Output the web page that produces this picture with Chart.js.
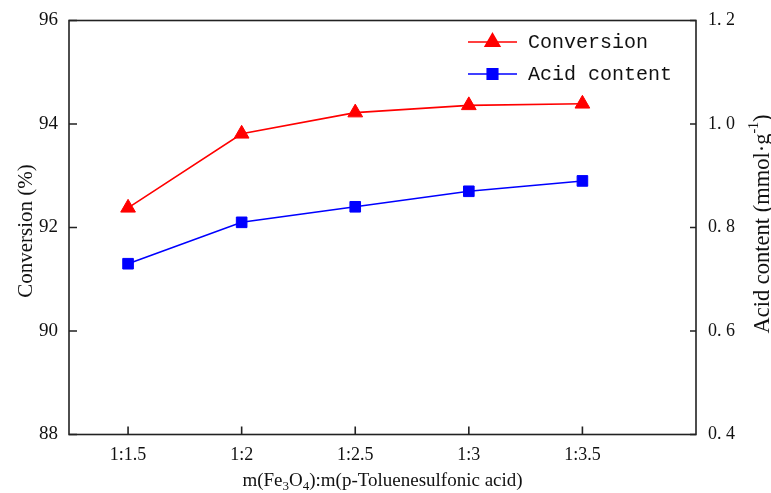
<!DOCTYPE html>
<html><head><meta charset="utf-8">
<script src="https://cdn.jsdelivr.net/npm/chart.js@4"></script>
<style>html,body{margin:0;padding:0;background:#fff}canvas{display:block}</style>
</head><body>
<canvas id="c" width="771" height="493"></canvas>
<script>
const categories = ['1:1.5', '1:2', '1:2.5', '1:3', '1:3.5'];
const conversion = [92.38, 93.81, 94.22, 94.36, 94.39];
const acidContent = [0.73, 0.81, 0.84, 0.87, 0.89];
const leftTicks = [88, 90, 92, 94, 96];
const rightTicks = [0.4, 0.6, 0.8, 1.0, 1.2];
const seriesNames = ['Conversion', 'Acid content'];

const FRAME = '#222';
const serif = '"Liberation Serif", "Times New Roman", serif';
const mono = '"Liberation Mono", "DejaVu Sans Mono", monospace';

const framePlugin = {
  id: 'frame',
  afterDatasetsDraw(chart) {
    const {ctx, chartArea: a, scales} = chart;
    ctx.save();
    ctx.strokeStyle = FRAME;
    ctx.lineWidth = 1.6;
    ctx.strokeRect(a.left, a.top, a.right - a.left, a.bottom - a.top);
    ctx.beginPath();
    leftTicks.forEach(v => { const y = scales.y.getPixelForValue(v); ctx.moveTo(a.left, y); ctx.lineTo(a.left + 8, y); });
    rightTicks.forEach(v => { const y = scales.y2.getPixelForValue(v); ctx.moveTo(a.right, y); ctx.lineTo(a.right - 6, y); });
    categories.forEach((c, i) => { const x = scales.x.getPixelForValue(i); ctx.moveTo(x, a.bottom); ctx.lineTo(x, a.bottom - 8); });
    ctx.stroke();
    ctx.restore();
  }
};

const textPlugin = {
  id: 'texts',
  afterDraw(chart) {
    const {ctx, chartArea: a} = chart;
    ctx.save();
    ctx.fillStyle = '#111';
    // left title
    ctx.save();
    ctx.translate(32, 231);
    ctx.rotate(-Math.PI / 2);
    ctx.font = '21px ' + serif;
    ctx.textAlign = 'center';
    ctx.textBaseline = 'alphabetic';
    ctx.fillText('Conversion (%)', 0, 0);
    ctx.restore();

    // right title with superscript
    ctx.save();
    ctx.translate(769, 224);
    ctx.rotate(-Math.PI / 2);
    ctx.textBaseline = 'alphabetic';
    ctx.textAlign = 'left';
    const big = '22.5px ' + serif, small = '14px ' + serif;
    const p1 = 'Acid content (mmol·g', p2 = '-1', p3 = ')';
    ctx.font = big; const w1 = ctx.measureText(p1).width; const w3 = ctx.measureText(p3).width;
    ctx.font = small; const w2 = ctx.measureText(p2).width;
    let x0 = -(w1 + w2 + w3) / 2;
    ctx.font = big; ctx.fillText(p1, x0, 0);
    ctx.font = small; ctx.fillText(p2, x0 + w1, -11);
    ctx.font = big; ctx.fillText(p3, x0 + w1 + w2, 0);
    ctx.restore();

    // x title with subscripts
    const parts = [['m(Fe', 0], ['3', 1], ['O', 0], ['4', 1], ['):m(p-Toluenesulfonic acid)', 0]];
    let tot = 0;
    parts.forEach(p => { ctx.font = (p[1] ? '13px ' : '19px ') + serif; p.push(ctx.measureText(p[0]).width); tot += p[2]; });
    let x = (a.left + a.right) / 2 - tot / 2;
    ctx.textAlign = 'left';
    ctx.textBaseline = 'alphabetic';
    parts.forEach(p => {
      ctx.font = (p[1] ? '13px ' : '19px ') + serif;
      ctx.fillText(p[0], x, 486 + (p[1] ? 4 : 0));
      x += p[2];
    });

    // legend
    const ds = chart.data.datasets;
    const rows = [42, 74];
    ds.forEach((d, i) => {
      const y = rows[i];
      const lx1 = a.right - 228, lx2 = a.right - 179;
      ctx.strokeStyle = d.borderColor;
      ctx.lineWidth = 1.5;
      ctx.beginPath(); ctx.moveTo(lx1, y); ctx.lineTo(lx2, y); ctx.stroke();
      ctx.fillStyle = d.pointBackgroundColor;
      ctx.strokeStyle = d.pointBorderColor;
      Chart.helpers.drawPoint(ctx, {pointStyle: d.pointStyle, radius: d.pointRadius, rotation: 0, borderWidth: 1}, (lx1 + lx2) / 2, y);
      ctx.fillStyle = '#111';
      ctx.font = '20px ' + mono;
      ctx.textBaseline = 'middle';
      ctx.fillText(d.label, a.right - 168, y + 1);
    });
    ctx.restore();
  }
};

new Chart(document.getElementById('c'), {
  type: 'line',
  data: {
    datasets: [
      {
        label: seriesNames[0],
        data: conversion.map((v, i) => ({x: i, y: v})),
        yAxisID: 'y',
        borderColor: '#ff0000', backgroundColor: '#ff0000',
        pointBackgroundColor: '#ff0000', pointBorderColor: '#ff0000',
        pointStyle: 'triangle', pointRadius: 8.5, pointBorderWidth: 1,
        borderWidth: 1.6, tension: 0
      },
      {
        label: seriesNames[1],
        data: acidContent.map((v, i) => ({x: i, y: v})),
        yAxisID: 'y2',
        borderColor: '#0000ff', backgroundColor: '#0000ff',
        pointBackgroundColor: '#0000ff', pointBorderColor: '#0000ff',
        pointStyle: 'rect', pointRadius: 7.5, pointBorderWidth: 1,
        borderWidth: 1.6, tension: 0
      }
    ]
  },
  options: {
    responsive: false,
    animation: false,
    events: [],
    layout: {padding: {top: 20.5, right: 0, left: 0, bottom: 0}},
    plugins: {legend: {display: false}, tooltip: {enabled: false}},
    scales: {
      x: {
        type: 'linear', min: -0.52, max: 5.0,
        afterBuildTicks: s => { s.ticks = categories.map((c, i) => ({value: i})); },
        afterFit: s => { s.height = 58.5; },
        grid: {display: false}, border: {display: false},
        ticks: {callback: v => categories[v], color: '#111', font: {family: serif, size: 18}, padding: 2, maxRotation: 0, autoSkip: false}
      },
      y: {
        position: 'left', min: 88, max: 96,
        afterBuildTicks: s => { s.ticks = leftTicks.map(v => ({value: v})); },
        afterFit: s => { s.width = 69; },
        grid: {display: false}, border: {display: false},
        ticks: {color: '#111', font: {family: serif, size: 19}, padding: 3}
      },
      y2: {
        position: 'right', min: 0.4, max: 1.2,
        afterBuildTicks: s => { s.ticks = rightTicks.map(v => ({value: v})); },
        afterFit: s => { s.width = 75; },
        grid: {display: false}, border: {display: false},
        ticks: {color: '#111', font: {family: serif, size: 18}, padding: 4, callback: v => v.toFixed(1).replace('.', '. ')}
      }
    }
  },
  plugins: [framePlugin, textPlugin]
});
</script>
</body></html>
